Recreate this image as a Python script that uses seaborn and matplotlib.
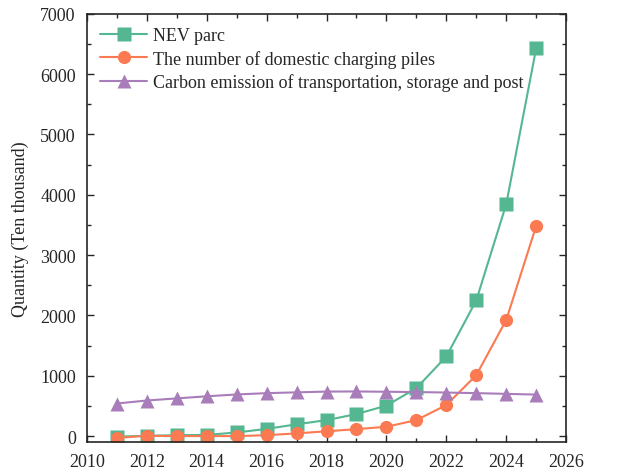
import numpy as np
import pandas as pd
import matplotlib.pyplot as plt
import seaborn as sns
from matplotlib.ticker import MultipleLocator

years = list(range(2011, 2026))
nev_parc = [-10, 5, 15, 20, 60, 120, 195, 265, 365, 505, 795, 1320, 2250, 3845, 6430]
charging_piles = [-30, 5, 0, 0, 0, 15, 45, 80, 115, 155, 265, 515, 1010, 1925, 3485]
carbon_emission = [540, 590, 625, 660, 690, 712, 725, 738, 740, 735, 730, 722, 712, 700, 688]

series_names = ["NEV parc",
                "The number of domestic charging piles",
                "Carbon emission of transportation, storage and post"]
colors = ["#55B791", "#FB7A52", "#A97CBA"]
markers = ["s", "o", "^"]

df = pd.concat([
    pd.DataFrame({"Year": years, "Value": vals, "Series": name})
    for name, vals in zip(series_names, [nev_parc, charging_piles, carbon_emission])
])

sns.set_style("ticks")
plt.rcParams['font.family'] = ['Liberation Serif', 'DejaVu Serif']

fig = plt.figure(figsize=(6.39, 4.77), dpi=100)
ax = fig.add_axes([0.136, 0.071, 0.75, 0.898])

sns.lineplot(data=df, x="Year", y="Value", hue="Series", style="Series",
             palette=dict(zip(series_names, colors)),
             markers=dict(zip(series_names, markers)), dashes=False,
             markersize=9.5, linewidth=1.5, markeredgecolor="none", ax=ax)

ax.set_xlim(2010, 2026)
ax.set_ylim(-100, 7000)
ax.xaxis.set_major_locator(MultipleLocator(2))
ax.xaxis.set_minor_locator(MultipleLocator(1))
ax.yaxis.set_major_locator(MultipleLocator(1000))
ax.yaxis.set_minor_locator(MultipleLocator(500))
ax.tick_params(which="both", direction="in", top=True, right=True, labelsize=13)
ax.tick_params(which="major", length=5, width=1, pad=8)
ax.tick_params(which="minor", length=3, width=1)
for sp in ax.spines.values():
    sp.set_linewidth(1.2)

ax.set_xlabel("")
ax.set_ylabel("Quantity (Ten thousand)", fontsize=13, labelpad=8)

ax.legend(loc="upper left", frameon=False, fontsize=13, handlelength=2.6,
          handletextpad=0.3, labelspacing=0.3, borderaxespad=0.35)

fig.savefig("out.png", dpi=100)
